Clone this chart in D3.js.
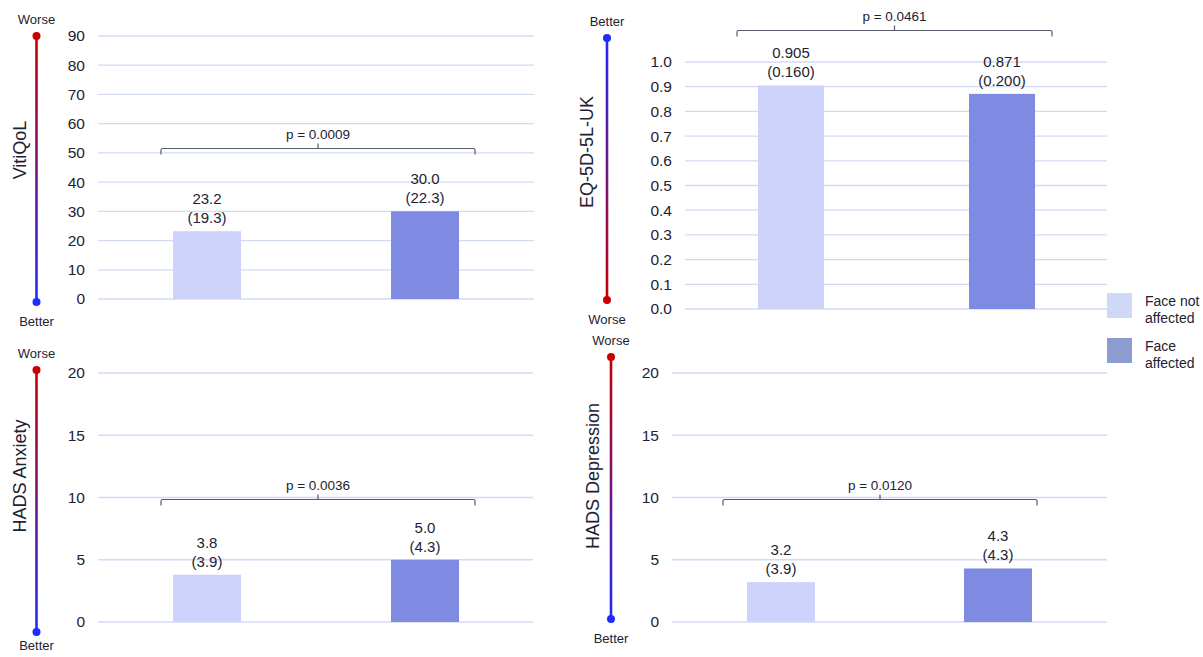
<!DOCTYPE html>
<html>
<head>
<meta charset="utf-8">
<script src="https://cdn.jsdelivr.net/npm/d3@7"></script>
<style>
  body { margin: 0; background: #fff; }
  svg { font-family: Arial, "Liberation Sans", sans-serif; }
</style>
</head>
<body>
<svg id="chart" width="1203" height="657"></svg>
<script>
var groups = ["Face not affected", "Face affected"];
var measures = ["VitiQoL", "EQ-5D-5L-UK", "HADS Anxiety", "HADS Depression"];
var means = [[23.2, 30.0], [0.905, 0.871], [3.8, 5.0], [3.2, 4.3]];
var sds = [[19.3, 22.3], [0.160, 0.200], [3.9, 4.3], [3.9, 4.3]];
var meanLabels = [["23.2", "30.0"], ["0.905", "0.871"], ["3.8", "5.0"], ["3.2", "4.3"]];
var sdLabels = [["(19.3)", "(22.3)"], ["(0.160)", "(0.200)"], ["(3.9)", "(4.3)"], ["(3.9)", "(4.3)"]];
var pValues = ["p = 0.0009", "p = 0.0461", "p = 0.0036", "p = 0.0120"];
var bracketLevel = [51.7, 1.13, 9.9, 9.9];
var yMax = [90, 1.0, 20, 20];
var yTicks = [d3.range(0, 91, 10), d3.range(0, 1.01, 0.1), [0, 5, 10, 15, 20], [0, 5, 10, 15, 20]];
var tickFmt = [d3.format("d"), d3.format(".1f"), d3.format("d"), d3.format("d")];
var higherIsBetter = [false, true, false, false];

// panel boxes (pixels)
var panels = [
  {x0: 98, x1: 534, yTop: 36, yBot: 299, bars: [[173, 241], [391, 459]], br: [161, 475],
   gx: 36.5, gTop: 36, gBot: 302, lx: 20, ly: 150},
  {x0: 685, x1: 1107, yTop: 62, yBot: 309, bars: [[758, 824], [969, 1035]], br: [737, 1052],
   gx: 607, gTop: 38, gBot: 300, lx: 587, ly: 152},
  {x0: 98, x1: 533, yTop: 373, yBot: 622, bars: [[173, 241], [391, 459]], br: [161, 475],
   gx: 36.5, gTop: 370, gBot: 632, lx: 20, ly: 476},
  {x0: 672, x1: 1107, yTop: 373, yBot: 622, bars: [[747, 815], [964, 1032]], br: [723, 1037],
   gx: 611, gTop: 357, gBot: 619, lx: 593, ly: 476}
];

var barColor = ["#cdd2fa", "#7f8ae2"];
var legendColor = ["#cfd8f6", "#8c9bd0"];
var textColor = "#1e2232";

var svg = d3.select("#chart");
var defs = svg.append("defs");

measures.forEach(function(m, i) {
  var p = panels[i];
  var g = svg.append("g");

  var y = d3.scaleLinear().domain([0, yMax[i]]).range([p.yBot, p.yTop]);

  // gridlines
  g.selectAll(".grid").data(yTicks[i]).enter().append("line")
    .attr("x1", p.x0).attr("x2", p.x1)
    .attr("y1", d => y(d)).attr("y2", d => y(d))
    .attr("stroke", "#d3daf6").attr("stroke-width", 1.3);

  // tick labels
  g.selectAll(".tick").data(yTicks[i]).enter().append("text")
    .attr("x", p.x0 - 13).attr("y", d => y(d)).attr("dy", "0.35em")
    .attr("text-anchor", "end").attr("font-size", 15.5).attr("fill", textColor)
    .text(d => tickFmt[i](d));

  // bars + value labels
  groups.forEach(function(gr, j) {
    var bx = p.bars[j];
    g.append("rect")
      .attr("x", bx[0]).attr("width", bx[1] - bx[0])
      .attr("y", y(means[i][j])).attr("height", y(0) - y(means[i][j]))
      .attr("fill", barColor[j]);
    var cx = (bx[0] + bx[1]) / 2;
    g.append("text").attr("x", cx).attr("y", y(means[i][j]) - 27)
      .attr("text-anchor", "middle").attr("font-size", 15).attr("fill", textColor)
      .text(meanLabels[i][j]);
    g.append("text").attr("x", cx).attr("y", y(means[i][j]) - 8)
      .attr("text-anchor", "middle").attr("font-size", 15).attr("fill", textColor)
      .text(sdLabels[i][j]);
  });

  // bracket
  var by = Math.round(y(bracketLevel[i])) + 0.5;
  var mid = (p.br[0] + p.br[1]) / 2;
  g.append("path")
    .attr("d", "M" + p.br[0] + "," + (by + 6) + " V" + (by + 1.5) + " Q" + p.br[0] + "," + by + " " + (p.br[0] + 1.5) + "," + by +
      " H" + (p.br[1] - 1.5) + " Q" + p.br[1] + "," + by + " " + p.br[1] + "," + (by + 1.5) + " V" + (by + 6) +
      " M" + mid + "," + by + " V" + (by - 5))
    .attr("fill", "none").attr("stroke", "#565c6c").attr("stroke-width", 1.2);
  g.append("text").attr("x", mid).attr("y", by - 10)
    .attr("text-anchor", "middle").attr("font-size", 13.5).attr("fill", textColor)
    .text(pValues[i]);

  // better / worse gradient line
  var topCol = higherIsBetter[i] ? "#1e2cff" : "#c80000";
  var botCol = higherIsBetter[i] ? "#c80000" : "#1e2cff";
  var gid = "grad" + i;
  var grad = defs.append("linearGradient").attr("id", gid)
    .attr("gradientUnits", "userSpaceOnUse")
    .attr("x1", 0).attr("y1", p.gTop).attr("x2", 0).attr("y2", p.gBot);
  grad.append("stop").attr("offset", "0%").attr("stop-color", topCol);
  grad.append("stop").attr("offset", "100%").attr("stop-color", botCol);
  g.append("rect").attr("x", p.gx - 1.3).attr("width", 2.6)
    .attr("y", p.gTop).attr("height", p.gBot - p.gTop).attr("fill", "url(#" + gid + ")");
  g.append("circle").attr("cx", p.gx).attr("cy", p.gTop).attr("r", 4).attr("fill", topCol);
  g.append("circle").attr("cx", p.gx).attr("cy", p.gBot).attr("r", 4).attr("fill", botCol);
  g.append("text").attr("x", p.gx).attr("y", p.gTop - 12)
    .attr("text-anchor", "middle").attr("font-size", 13).attr("fill", textColor)
    .text(higherIsBetter[i] ? "Better" : "Worse");
  g.append("text").attr("x", p.gx).attr("y", Math.min(p.gBot + 24, 650))
    .attr("text-anchor", "middle").attr("font-size", 13).attr("fill", textColor)
    .text(higherIsBetter[i] ? "Worse" : "Better");

  // axis title
  g.append("text")
    .attr("transform", "translate(" + p.lx + "," + p.ly + ") rotate(-90)")
    .attr("dy", "0.35em").attr("text-anchor", "middle")
    .attr("font-size", 18).attr("fill", textColor)
    .text(m);
});

// legend
var legLines = [["Face not", "affected"], ["Face", "affected"]];
var leg = svg.append("g").attr("transform", "translate(1107,293)");
groups.forEach(function(gr, j) {
  var row = leg.append("g").attr("transform", "translate(0," + (j * 45) + ")");
  row.append("rect").attr("width", 25).attr("height", 25).attr("fill", legendColor[j]);
  legLines[j].forEach(function(t, k) {
    row.append("text").attr("x", 38).attr("y", 8 + k * 17).attr("dy", "0.35em")
      .attr("font-size", 14).attr("fill", textColor).text(t);
  });
});
</script>
</body>
</html>
